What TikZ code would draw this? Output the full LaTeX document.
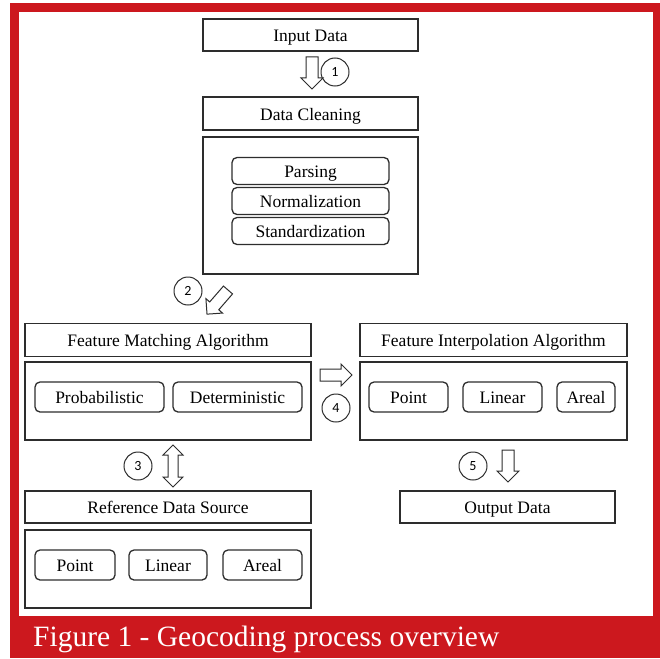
\documentclass[tikz,border=0pt]{standalone}
\usepackage{fontspec}
\setmainfont{Liberation Serif}
\newfontfamily\numfont{Carlito}
\definecolor{figred}{RGB}{204,24,30}
\definecolor{linec}{RGB}{45,45,45}
\begin{document}
\begin{tikzpicture}[x=1pt,y=-1pt,
  hdr/.style={draw=linec, line width=1.3pt, inner sep=0pt, text height=14.5pt, text depth=1.5pt,
    font=\fontsize{17.5}{20}\selectfont},
  holder/.style={draw=linec, line width=1.3pt, inner sep=0pt},
  item/.style={draw=linec, line width=1.3pt, rounded corners=5pt, inner sep=0pt,
    text height=14.5pt, text depth=1.5pt, font=\fontsize{17.5}{20}\selectfont},
  num/.style={draw=linec, line width=1pt, circle, minimum size=28pt, inner sep=0pt,
    font=\numfont\fontsize{14}{16}\selectfont},
  arrowline/.style={draw=linec, line width=1pt, fill=white, line join=miter},
  blockarrow/.pic={\path[arrowline] (0,-6) -- (21,-6) -- (21,-11) -- (32,0) -- (21,11) -- (21,6) -- (0,6) -- cycle;},
  dblarrow/.pic={\path[arrowline] (0,0) -- (10,-10) -- (10,-5) -- (32,-5) -- (32,-10) -- (42,0) -- (32,10) -- (32,5) -- (10,5) -- (10,10) -- cycle;}
]
\useasboundingbox (0,0) rectangle (660,658);
\fill[white] (0,0) rectangle (660,658);
\fill[figred] (10,3) rectangle (660,658);
\fill[white] (19,12) rectangle (653,616);

% top column
\node[hdr, minimum width=215pt, minimum height=32pt] (input) at (310.5,35) {Input Data};
\node[hdr, minimum width=215pt, minimum height=33pt] (clean) at (310.5,113.5) {Data Cleaning};
\node[holder, minimum width=215pt, minimum height=137pt] (cleanbox) at (310.5,205.5) {};
\node[item, minimum width=157pt, minimum height=27pt] (parse) at (310.5,171) {Parsing};
\node[item, minimum width=157pt, minimum height=27pt] (norm) at (310.5,201) {Normalization};
\node[item, minimum width=157pt, minimum height=27pt] (stand) at (310.5,231) {Standardization};

% feature matching
\node[hdr, minimum width=286pt, minimum height=33pt] (fma) at (168,340) {Feature Matching Algorithm};
\node[holder, minimum width=286pt, minimum height=78pt] (fmabox) at (168,401) {};
\node[item, minimum width=129pt, minimum height=30pt] (prob) at (99.5,397) {Probabilistic};
\node[item, minimum width=129pt, minimum height=30pt] (det) at (237.5,397) {Deterministic};

% feature interpolation
\node[hdr, minimum width=267pt, minimum height=33pt] (fia) at (493.5,340) {Feature Interpolation Algorithm};
\node[holder, minimum width=267pt, minimum height=78pt] (fiabox) at (493.5,401) {};
\node[item, minimum width=79pt, minimum height=30pt] (ipoint) at (408.5,397) {Point};
\node[item, minimum width=79pt, minimum height=30pt] (ilinear) at (502.5,397) {Linear};
\node[item, minimum width=58pt, minimum height=30pt] (iareal) at (586,397) {Areal};

% reference data source
\node[hdr, minimum width=286pt, minimum height=32pt] (rds) at (168,507) {Reference Data Source};
\node[holder, minimum width=286pt, minimum height=78pt] (rdsbox) at (168,569) {};
\node[item, minimum width=80pt, minimum height=30pt] (rpoint) at (75,565) {Point};
\node[item, minimum width=78pt, minimum height=30pt] (rlinear) at (168,565) {Linear};
\node[item, minimum width=79pt, minimum height=30pt] (rareal) at (262.5,565) {Areal};

% output
\node[hdr, minimum width=215pt, minimum height=32pt] (output) at (507.5,507) {Output Data};

% step numbers
\node[num] (c1) at (335,72) {1};
\node[num] (c2) at (188,291) {2};
\node[num] (c3) at (138,466) {3};
\node[num] (c4) at (336,408) {4};
\node[num] (c5) at (473,466) {5};

% block arrows
\pic[rotate=-90] at (312,57) {blockarrow};
\pic[rotate=-131] at (228,290) {blockarrow};
\pic[rotate=-90] at (173,445) {dblarrow};
\pic at (320,375) {blockarrow};
\pic[rotate=-90] at (508,450) {blockarrow};

% caption
\node[anchor=base west, inner sep=0pt, text=white, font=\fontsize{29.5}{32}\selectfont] (caption) at (33,646) {Figure 1 - Geocoding process overview};
\end{tikzpicture}
\end{document}
